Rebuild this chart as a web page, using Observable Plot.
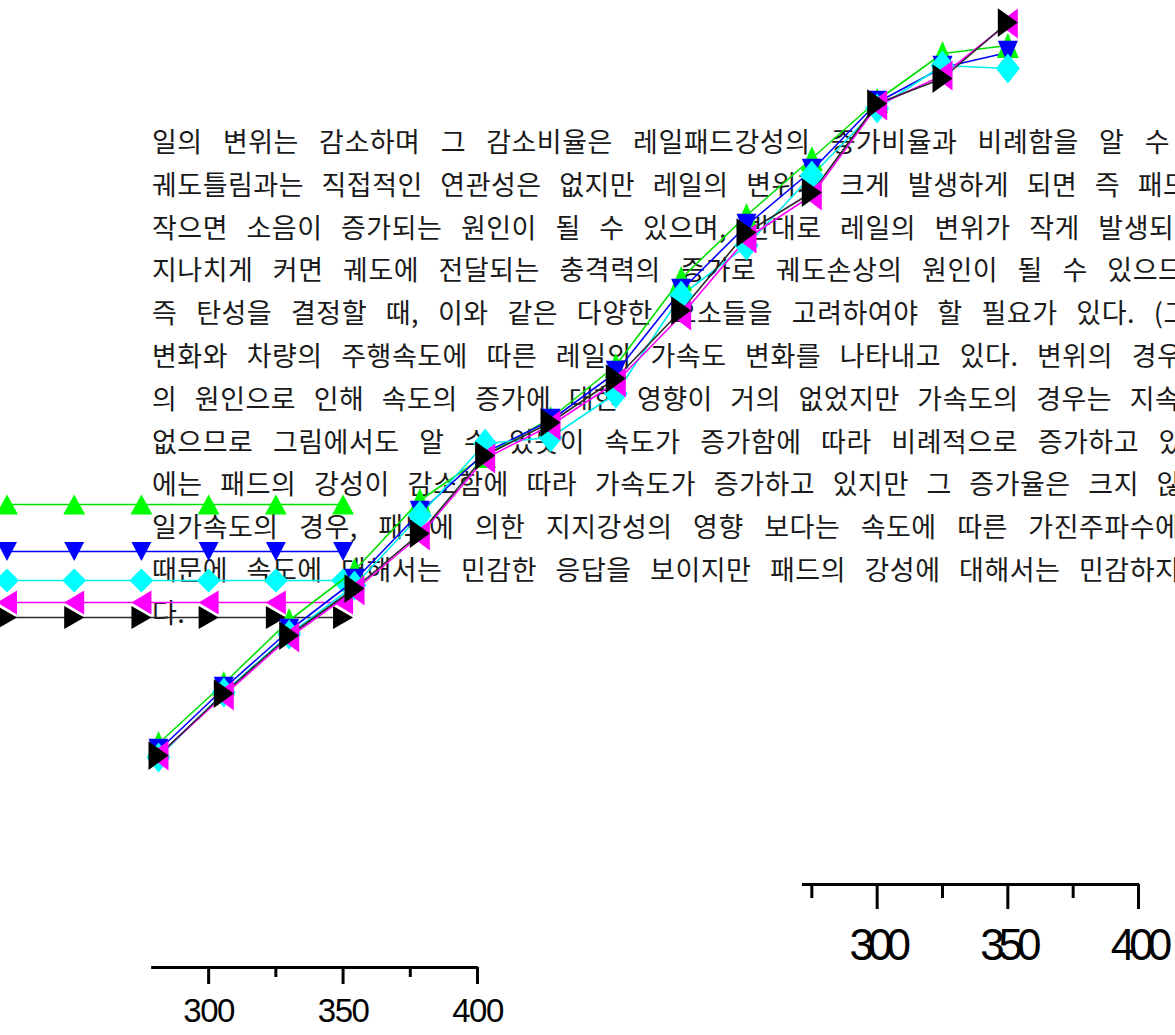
<!DOCTYPE html>
<html><head><meta charset="utf-8">
<script src="https://cdn.jsdelivr.net/npm/d3@7"></script>
<script src="https://cdn.jsdelivr.net/npm/@observablehq/plot@0.6"></script>
<style>
html,body{margin:0;padding:0;background:#fff;}
#stage{position:relative;width:1175px;height:1035px;overflow:hidden;background:#fff;}
#stage > svg{position:absolute;left:0;top:0;margin:0;}
.bodytext text{font-family:"Noto Sans CJK KR","Noto Sans",sans-serif;font-size:27px;fill:#1a1a1a;letter-spacing:0.5px;}
.chartA g[aria-label="x-axis tick label"] text{letter-spacing:-1.5px;}
.chartB g[aria-label="x-axis tick label"] text{letter-spacing:-6px;}
</style></head><body><div id="stage"></div>
<script>
// ---------- body text (visible part of each line, and what is cut at the edge) ----------
const textPre = [
  "일의 변위는 감소하며 그 감소비율은 레일패드강성의 증가비율과 비례함을 알 수",
  "궤도틀림과는 직접적인 연관성은 없지만 레일의 변위가 크게 발생하게 되면 즉 패",
  "작으면 소음이 증가되는 원인이 될 수 있으며, 반대로 레일의 변위가 작게 발생",
  "지나치게 커면 궤도에 전달되는 충격력의 증가로 궤도손상의 원인이 될 수 있으",
  "즉 탄성을 결정할 때, 이와 같은 다양한 요소들을 고려하여야 할 필요가 있다.",
  "변화와 차량의 주행속도에 따른 레일의 가속도 변화를 나타내고 있다. 변위의 경",
  "의 원인으로 인해 속도의 증가에 대한 영향이 거의 없었지만 가속도의 경우는 지",
  "없으므로 그림에서도 알 수 있듯이 속도가 증가함에 따라 비례적으로 증가하고",
  "에는 패드의 강성이 감소함에 따라 가속도가 증가하고 있지만 그 증가율은 크지",
  "일가속도의 경우, 패드에 의한 지지강성의 영향 보다는 속도에 따른 가진주파수",
  "때문에 속도에 대해서는 민감한 응답을 보이지만 패드의 강성에 대해서는 민감하",
  "다."
];
const textRest = [" 있다.", "드", "되면", "므로", " (그림", "우", "속적", " 있", " 않", "에", "지", ""];
// layout: right edge (px) of the visible part of each justified line
const textRightEdge = [1170, 1163, 1149, 1158, 1135, 1157, 1155, 1139, 1139, 1155, 1155, null];

// ---------- chart A (flat series) ----------
const xA = [225, 250, 275, 300, 325, 350];
const aGreen   = [46.3, 46.3, 46.3, 46.3, 46.3, 46.3];
const aBlue    = [41.6, 41.6, 41.6, 41.6, 41.6, 41.6];
const aCyan    = [38.7, 38.7, 38.7, 38.7, 38.7, 38.7];
const aMagenta = [36.5, 36.5, 36.5, 36.5, 36.5, 36.5];
const aBlack   = [35.0, 35.0, 35.0, 35.0, 35.0, 35.0];

// ---------- chart B (rising series) ----------
const xB = [25, 50, 75, 100, 125, 150, 175, 200, 225, 250, 275, 300, 325, 350];
const bGreen   = [14.1, 20.1, 26.4, 31.4, 38.4, 42.9, 46.6, 51.9, 60.6, 66.9, 72.6, 78.4, 83.1, 83.9];
const bBlue    = [13.4, 19.6, 25.4, 30.4, 37.2, 43.2, 46.4, 51.2, 59.4, 65.9, 71.4, 78.2, 81.7, 83.2];
const bCyan    = [12.7, 19.2, 25.0, 29.9, 36.9, 44.1, 44.7, 49.1, 58.9, 63.9, 70.9, 77.6, 81.9, 81.6];
const bMagenta = [12.9, 18.9, 24.7, 29.4, 34.9, 42.6, 45.9, 50.2, 56.9, 64.6, 68.9, 77.9, 80.9, 86.1];
const bBlack   = [12.9, 19.1, 24.9, 29.6, 35.1, 42.9, 46.2, 50.6, 57.4, 65.2, 69.2, 78.1, 80.6, 86.2];

// ---------- axes ----------
const majorTicks = [300, 350, 400];
const minorTicksA = [325, 375];
const minorTicksB = [275, 325, 375];

// ---------- styles ----------
const markerColors = ["#00ff00", "#0000ff", "#00ffff", "#ff00ff", "#000000"];
const lineColors   = ["#00e000", "#0000ff", "#00eeee", "#ff00ff", "#2a2a2a"];

function poly(pts, sy) {
  return {draw(ctx, size) {
    const k = Math.sqrt(size / Math.PI) / 10;
    ctx.moveTo(pts[0][0] * k, pts[0][1] * k * sy);
    for (let i = 1; i < pts.length; i++) ctx.lineTo(pts[i][0] * k, pts[i][1] * k * sy);
    ctx.closePath();
  }};
}
function symbols(sy) {
  return [
    poly([[0, -10], [11, 10], [-11, 10]], sy),            // up triangle
    poly([[-10, -9.5], [10, -9.5], [0, 9.5]], sy),        // down triangle
    poly([[0, -12], [12, 0], [0, 12], [-12, 0]], sy),     // diamond
    poly([[-10, 0], [10, -12], [10, 12]], sy),            // left triangle
    poly([[10, 0], [-10, -11.5], [-10, 11.5]], sy)        // right triangle
  ];
}
const rows = (xs, ys) => xs.map((x, i) => ({x, y: ys[i]}));

function chart(o) {
  const syms = symbols(o.stretch);
  const marks = [];
  o.values.forEach((v, i) => marks.push(Plot.line(rows(o.x, v), {x: "x", y: "y", stroke: lineColors[i], strokeWidth: o.lw})));
  o.values.forEach((v, i) => marks.push(Plot.dot(rows(o.x, v), {x: "x", y: "y", fill: markerColors[i], symbol: syms[i], r: 10})));
  marks.push(Plot.ruleY([0], {x1: o.axisFrom, x2: o.axisTo, strokeWidth: 3}));
  marks.push(Plot.axisX({ticks: majorTicks, tickSize: o.major, tickPadding: o.pad, strokeWidth: 3, fontSize: o.fs, label: null}));
  marks.push(Plot.axisX({ticks: o.minor, tickSize: o.minorSize, strokeWidth: 3, tickFormat: () => "", label: null}));
  return Plot.plot({
    width: 1175, height: 1035,
    marginLeft: o.ml, marginRight: o.mr, marginTop: 0, marginBottom: o.mb,
    className: o.cls,
    style: {background: "transparent", overflow: "visible", fontFamily: "'Liberation Sans', Arial, sans-serif"},
    x: {domain: o.xd, axis: null},
    y: {domain: o.yd, axis: null},
    marks
  });
}

const stage = document.getElementById("stage");

// text layer
const tsvg = d3.select(stage).append("svg").attr("width", 1175).attr("height", 1035).attr("class", "bodytext");
const textLeft = 152, firstBaseline = 152, lineStep = 42.8;
textPre.forEach((pre, i) => {
  const t = tsvg.append("text").attr("x", textLeft).attr("y", firstBaseline + i * lineStep).text(pre);
  if (textRightEdge[i] != null) {
    const L = t.node().getComputedTextLength();
    const n = (pre.match(/ /g) || []).length;
    if (n > 0) t.style("word-spacing", ((textRightEdge[i] - textLeft - L) / n) + "px");
  }
  t.text(pre + textRest[i]);
});

// chart A
stage.appendChild(chart({
  cls: "chartA", x: xA, values: [aGreen, aBlue, aCyan, aMagenta, aBlack],
  xd: [225, 400], yd: [0, 96.7], ml: 6.5, mr: 698, mb: 68,
  lw: 1.4, stretch: 1.0,
  axisFrom: 278.8, axisTo: 400.3, major: 17, pad: 14, fs: 33, minor: minorTicksA, minorSize: 10
}));

// chart B
stage.appendChild(chart({
  cls: "chartB", x: xB, values: [bGreen, bBlue, bCyan, bMagenta, bBlack],
  xd: [25, 400], yd: [0, 88.4], ml: 158, mr: 37, mb: 151,
  lw: 1.6, stretch: 1.25,
  axisFrom: 271.4, axisTo: 400.4, major: 25, pad: 19, fs: 44, minor: minorTicksB, minorSize: 14
}));
</script></body></html>
